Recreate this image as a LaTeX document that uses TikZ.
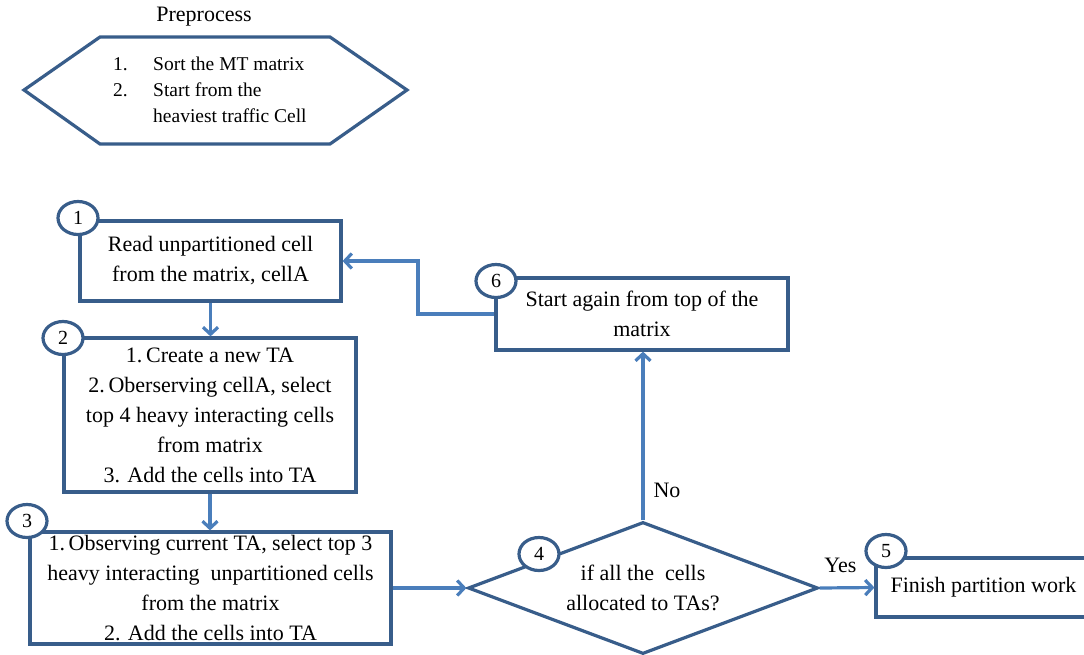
\documentclass[tikz,border=0pt]{standalone}
\usepackage{fontspec}
\setmainfont{Liberation Serif}
\usetikzlibrary{arrows.meta,shapes.geometric}
\definecolor{frame}{RGB}{56,93,138}
\definecolor{linkblue}{RGB}{74,126,187}
\tikzset{
  outline/.style={draw=frame, line width=3.2pt, line join=miter},
  stepbox/.style={outline, fill=white, inner sep=0pt, align=center,
    font=\fontsize{22}{30}\selectfont},
  badge/.style={outline, fill=white, ellipse, minimum width=40pt,
    minimum height=33pt, inner sep=0pt, font=\fontsize{20}{22}\selectfont},
  link/.style={draw=linkblue, line width=3.2pt,
    -{Straight Barb[length=7pt,width=15pt]}},
  tag/.style={inner sep=0pt, font=\fontsize{22}{26}\selectfont},
}
\begin{document}
\begin{tikzpicture}[x=1pt,y=-1pt]
\useasboundingbox (0,0) rectangle (1084,654);
\clip (0,0) rectangle (1084,654);

% preprocessing stage
\node[tag] (title) at (204,17) {Preprocess};
\draw[outline] (24,90) -- (100,37) -- (330,37) -- (407,90)
  -- (330,144) -- (100,144) -- cycle;
\node[anchor=west, inner sep=0pt, font=\fontsize{19.5}{26}\selectfont]
  (prep) at (113,91)
  {\begin{tabular}{@{}p{40pt}@{}l@{}}
   1. & Sort the MT matrix\\
   2. & Start from the\\
      & heaviest traffic Cell
   \end{tabular}};

% partition steps
\node[stepbox, minimum width=261pt, minimum height=80pt] (b1) at (210.5,261)
  {Read unpartitioned cell\\from the matrix, cellA};
\node[stepbox, minimum width=292pt, minimum height=154pt] (b2) at (210,415)
  {1.\,Create a new TA\\2.\,Oberserving cellA, select\\top 4 heavy interacting cells\\from matrix\\3. Add the cells into TA};
\node[stepbox, minimum width=361pt, minimum height=112pt] (b3) at (210.5,588)
  {1.\,Observing current TA, select top 3\\heavy interacting\ \ unpartitioned cells\\from the matrix\\2. Add the cells into TA};
\node[stepbox, diamond, aspect=2.65, minimum width=350pt, minimum height=132pt] (d4) at (643,588)
  {if all the\ \ cells\\allocated to TAs?};
\node[stepbox, minimum width=215pt, minimum height=59pt] (b5) at (983.5,587.5)
  {Finish partition work};
\node[stepbox, minimum width=292pt, minimum height=72pt] (b6) at (642,314)
  {Start again from top of the\\matrix};

% connectors
\coordinate (turn) at (418,0);
\draw[link] (b1.south) -- (b1.south |- b2.north);
\draw[link] (b2.south) -- (b2.south |- b3.north);
\draw[link] (b3.east) -- (b3.east -| d4.west);
\draw[link] (d4.north) -- node[tag, pos=0.18, anchor=west, xshift=9pt] {No} (d4.north |- b6.south);
\draw[link] (d4.east) -- node[tag, pos=0.38, above=14pt] {Yes} (b5.west);
\draw[link] (b6.west) -| (turn |- b1.east) -- (b1.east);

% step numbers
\node[badge] (c1) at (78,218) {1};
\node[badge] (c2) at (63,338) {2};
\node[badge] (c3) at (27,521) {3};
\node[badge] (c4) at (539,554) {4};
\node[badge] (c5) at (886,551) {5};
\node[badge] (c6) at (496,281) {6};
\end{tikzpicture}
\end{document}
